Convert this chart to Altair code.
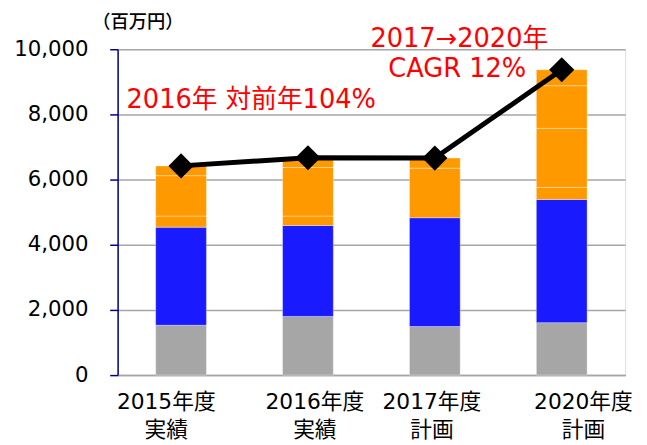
import altair as alt
import pandas as pd

categories = ["2015年度|実績", "2016年度|実績", "2017年度|計画", "2020年度|計画"]
gray = [1530, 1800, 1490, 1610]
blue = [3010, 2790, 3340, 3780]
orange_a = [340, 290, 1520, 370]
orange_b = [1240, 1490, 310, 1810]
orange_c = [300, 280, 0, 1310]
orange_d = [0, 0, 0, 490]
totals = [6420, 6670, 6660, 9370]
label_offsets = [-15, 7, -3, 22]

FONT = "DejaVu Sans, Noto Sans CJK JP"

segments = [("gray", gray), ("blue", blue), ("oa", orange_a), ("ob", orange_b), ("oc", orange_c), ("od", orange_d)]
rows = []
for order, (name, vals) in enumerate(segments):
    for c, v in zip(categories, vals):
        if v > 0:
            rows.append({"cat": c, "seg": name, "val": v, "ord": order})
bars_df = pd.DataFrame(rows)
line_df = pd.DataFrame({"cat": categories, "total": totals})

off_expr = " : ".join(
    [f"datum.value == '{c}' ? {o}" for c, o in zip(categories, label_offsets)]
) + " : 0"

x = alt.X(
    "cat:N",
    sort=categories,
    title=None,
    scale=alt.Scale(paddingInner=0.6, paddingOuter=0.3),
    axis=alt.Axis(
        labelExpr="split(datum.label, '|')",
        labelAngle=0,
        labelFont=FONT,
        labelFontSize=22,
        labelColor="#000000",
        labelLineHeight=28,
        labelPadding=17,
        labelBaseline="top",
        labelOffset=alt.ExprRef(off_expr),
        ticks=False,
        domainColor="#a6a6a6",
        domainWidth=1.5,
        grid=False,
    ),
)

color = alt.Color(
    "seg:N",
    scale=alt.Scale(
        domain=["gray", "blue", "oa", "ob", "oc", "od"],
        range=["#a6a6a6", "#1a1aff", "#ff9900", "#ff9900", "#ff9900", "#ff9900"],
    ),
    legend=None,
)

bars = alt.Chart(bars_df).mark_bar(
    stroke="#ffffff", strokeOpacity=0.35, strokeWidth=1
).encode(
    x=x,
    y=alt.Y(
        "sum(val):Q",
        title="（百万円）",
        scale=alt.Scale(domain=[0, 10000], nice=False),
        axis=alt.Axis(
            values=[0, 2000, 4000, 6000, 8000, 10000],
            format=",.0f",
            labelFont=FONT,
            labelFontSize=21.5,
            labelColor="#000000",
            labelPadding=22,
            tickSize=8,
            tickColor="#000080",
            tickWidth=1.5,
            domainColor="#000080",
            domainWidth=1.5,
            gridColor="#a6a6a6",
            gridWidth=1.5,
            titleFont="Noto Sans CJK JP",
            titleFontSize=18.5,
            titleFontWeight=500,
            titleColor="#000000",
            titleAngle=0,
            titleAlign="center",
            titleBaseline="middle",
            titleX=20,
            titleY=-28,
        ),
    ),
    color=color,
    order=alt.Order("ord:Q", sort="ascending"),
)

line = alt.Chart(line_df).mark_line(color="#000000", strokeWidth=5).encode(
    x=alt.X("cat:N", sort=categories),
    y=alt.Y("total:Q"),
)
points = alt.Chart(line_df).mark_point(
    shape="diamond", filled=True, color="#000000", size=650, opacity=1
).encode(
    x=alt.X("cat:N", sort=categories),
    y=alt.Y("total:Q"),
)

ann_df = pd.DataFrame({"t": ["2016年 対前年104%"]})
ann1 = alt.Chart(ann_df).mark_text(
    font=FONT, fontSize=26, color="#ff0000", align="left", baseline="middle"
).encode(text="t:N", x=alt.value(9), y=alt.value(52))

ann2_df = pd.DataFrame({"t": ["2017→2020年"]})
ann2 = alt.Chart(ann2_df).mark_text(
    font=FONT, fontSize=26, color="#ff0000", align="center", baseline="middle"
).encode(text="t:N", x=alt.value(346), y=alt.value(-10))

ann3_df = pd.DataFrame({"t": ["CAGR 12%"]})
ann3 = alt.Chart(ann3_df).mark_text(
    font=FONT, fontSize=26, color="#ff0000", align="center", baseline="middle"
).encode(text="t:N", x=alt.value(344), y=alt.value(20))

chart = alt.layer(bars, line, points, ann1, ann2, ann3).properties(
    width=514,
    height=330,
    autosize=alt.AutoSizeParams(type="none"),
    padding={"left": 111, "top": 39, "right": 14, "bottom": 66},
).configure_view(stroke=None).configure(background="#ffffff")

chart.save("out.html", embed_options={"renderer": "svg", "actions": False})
